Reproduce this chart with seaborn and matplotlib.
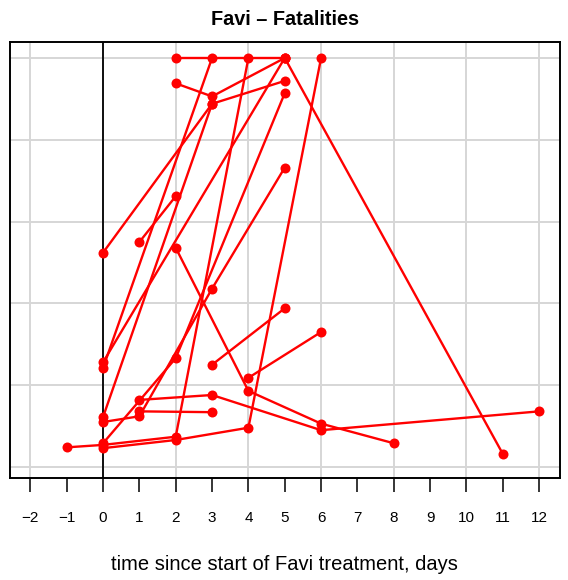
import matplotlib
matplotlib.use("Agg")
import matplotlib.pyplot as plt
from matplotlib.ticker import FixedLocator, NullFormatter
import pandas as pd
import seaborn as sns

# Per-patient trajectories: day relative to start of Favi treatment and score
p01_day = [0, 3, 5];            p01_val = [2.62, 4.44, 4.72]
p02_day = [2, 3, 5, 11];        p02_val = [4.69, 4.53, 5.00, 0.16]
p03_day = [0, 5];               p03_val = [1.28, 5.00]
p04_day = [0, 3];               p04_val = [1.21, 5.00]
p05_day = [-1, 0, 2, 4];        p05_val = [0.24, 0.27, 0.37, 5.00]
p06_day = [0, 2, 4, 6];         p06_val = [0.23, 0.33, 0.48, 5.00]
p07_day = [1, 2];               p07_val = [2.75, 3.31]
p08_day = [0, 3];               p08_val = [0.61, 4.44]
p09_day = [0, 1, 3, 5];         p09_val = [0.55, 0.62, 2.18, 3.66]
p10_day = [1, 3];               p10_val = [0.68, 0.67]
p11_day = [2, 4, 6, 8];         p11_val = [2.68, 0.93, 0.53, 0.29]
p12_day = [1, 3, 6, 12];        p12_val = [0.82, 0.88, 0.45, 0.68]
p13_day = [0, 2, 5];            p13_val = [0.29, 1.33, 4.57]
p15_day = [3, 5];               p15_val = [1.25, 1.94]
p16_day = [4, 6];               p16_val = [1.09, 1.65]
p17_day = [2, 5];               p17_val = [5.00, 5.00]

patients = {
    "p01": (p01_day, p01_val), "p02": (p02_day, p02_val), "p03": (p03_day, p03_val),
    "p04": (p04_day, p04_val), "p05": (p05_day, p05_val), "p06": (p06_day, p06_val),
    "p07": (p07_day, p07_val), "p08": (p08_day, p08_val), "p09": (p09_day, p09_val),
    "p10": (p10_day, p10_val), "p11": (p11_day, p11_val), "p12": (p12_day, p12_val),
    "p13": (p13_day, p13_val), "p15": (p15_day, p15_val), "p16": (p16_day, p16_val),
    "p17": (p17_day, p17_val),
}

x_ticks = list(range(-2, 13))
x_grid = list(range(-2, 13, 2))
y_grid = [0, 1, 2, 3, 4, 5]

rows = []
for pid, (days, vals) in patients.items():
    for order, (d, v) in enumerate(zip(days, vals)):
        rows.append({"patient": pid, "order": order, "day": d, "value": v})
df = pd.DataFrame(rows)

sns.set_style("white")
plt.rcParams["font.family"] = ["Liberation Sans", "DejaVu Sans"]
plt.rcParams["text.color"] = "black"
plt.rcParams["xtick.color"] = "black"
plt.rcParams["xtick.labelcolor"] = "black"

fig = plt.figure(figsize=(5.68, 5.80), dpi=100)
W, H = 568, 580
left, right, top, bottom = 10, 559.5, 41.7, 477.7
ax = fig.add_axes([left / W, 1 - bottom / H, (right - left) / W, (bottom - top) / H])

ax.set_xlim(-2.56, 12.56)
ax.set_ylim(-0.131, 5.199)

# light grid: vertical on even days, horizontal on whole score units
grid_kw = dict(color="#d6d6d6", lw=1.4, zorder=0)
for gx in x_grid:
    ax.axvline(gx, **grid_kw)
for gy in y_grid:
    ax.axhline(gy, **grid_kw)

ax.axvline(0, color="black", lw=1.3, zorder=1)

sns.lineplot(data=df, x="day", y="value", units="patient", estimator=None,
             sort=False, color="#ff0000", lw=1.7, marker="o", markersize=7.2,
             markeredgewidth=0, markeredgecolor="#ff0000", legend=False,
             ax=ax, zorder=3)

ax.xaxis.set_major_locator(FixedLocator(x_ticks))
ax.set_xticklabels([str(t).replace("-", "\u2212") for t in x_ticks])
ax.yaxis.set_major_locator(FixedLocator(y_grid))
ax.yaxis.set_major_formatter(NullFormatter())
ax.grid(False)
ax.tick_params(axis="x", which="major", direction="out", length=10, width=1.1,
               color="black", labelcolor="black", labelsize=11, pad=14, bottom=True)
ax.tick_params(axis="y", which="both", length=0, left=False, labelleft=False)
ax.set_xlabel("")
ax.set_ylabel("")

for s in ax.spines.values():
    s.set_visible(True)
    s.set_color("black")
    s.set_linewidth(1.4)

fig.text((left + right) / 2 / W, 1 - 25 / H, "Favi \u2013 Fatalities", color="black",
         ha="center", va="baseline", fontsize=14.3, fontweight="bold")
fig.text((left + right) / 2 / W, 1 - 570 / H, "time since start of Favi treatment, days",
         color="black", ha="center", va="baseline", fontsize=14.5)

fig.savefig("out.png", dpi=100)
